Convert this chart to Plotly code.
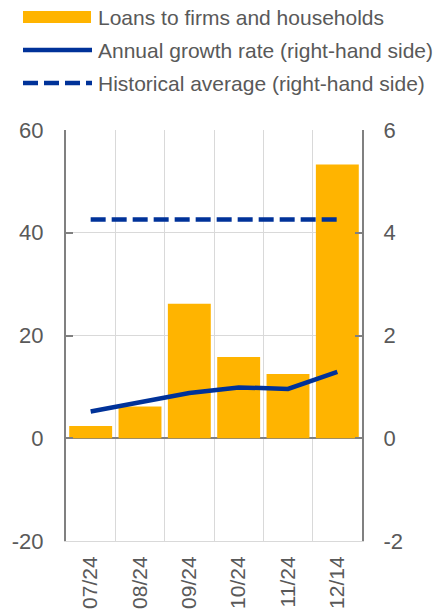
import plotly.graph_objects as go

# Monthly data
months = ["07/24", "08/24", "09/24", "10/24", "11/24", "12/14"]
loans = [2.4, 6.2, 26.2, 15.8, 12.5, 53.3]          # left-hand scale
growth_rate = [0.52, 0.70, 0.88, 0.99, 0.96, 1.29]  # right-hand scale
hist_average = [4.26, 4.26, 4.26, 4.26, 4.26, 4.26]  # right-hand scale

left_ticks = [-20, 0, 20, 40, 60]
left_labels = ["-20", "0", "20", "40", "60"]
right_ticks = [-2, 0, 2, 4, 6]
right_labels = ["-2", "0", "2", "4", "6"]

ORANGE = "#FFB400"
BLUE = "#003299"
TEXT = "#595959"
AXIS = "#808080"
GRID = "#D9D9D9"
FONT = "Arial, Liberation Sans, sans-serif"

W, H = 442, 615
L, R, T, B = 66, 80, 130, 74
PW, PH = W - L - R, H - T - B


def px_x(x):
    return (x - L) / PW


def px_y(y):
    return (H - B - y) / PH


fig = go.Figure()

fig.add_trace(go.Bar(
    x=months, y=loans, name="Loans to firms and households",
    marker=dict(color=ORANGE, line=dict(width=0)),
    yaxis="y", showlegend=False,
))
fig.add_trace(go.Scatter(
    x=months, y=growth_rate, name="Annual growth rate (right-hand side)",
    mode="lines", line=dict(color=BLUE, width=4.5),
    yaxis="y2", showlegend=False,
))
fig.add_trace(go.Scatter(
    x=months, y=hist_average, name="Historical average (right-hand side)",
    mode="lines", line=dict(color=BLUE, width=4.5, dash="15px,6px"),
    yaxis="y2", showlegend=False,
))

# Legend drawn as shapes + text
legend_rows = [
    ("Loans to firms and households", 17, "bar", None),
    ("Annual growth rate (right-hand side)", 50, "line", "solid"),
    ("Historical average (right-hand side)", 83, "line", "15px,6px"),
]
shapes = []
annotations = []
for label, cy, kind, dash in legend_rows:
    if kind == "bar":
        shapes.append(dict(type="rect", xref="paper", yref="paper",
                           x0=px_x(23), x1=px_x(91), y0=px_y(cy - 6), y1=px_y(cy + 6),
                           fillcolor=ORANGE, line=dict(width=0)))
    else:
        shapes.append(dict(type="line", xref="paper", yref="paper",
                           x0=px_x(23), x1=px_x(92), y0=px_y(cy), y1=px_y(cy),
                           line=dict(color=BLUE, width=4.5, dash=dash)))
    annotations.append(dict(text=label, xref="paper", yref="paper",
                            x=px_x(96), y=px_y(cy), xanchor="left", yanchor="middle",
                            showarrow=False, font=dict(family=FONT, size=21, color=TEXT)))

fig.update_layout(
    width=W, height=H,
    margin=dict(l=L, r=R, t=T, b=B, autoexpand=False),
    paper_bgcolor="white", plot_bgcolor="white",
    font=dict(family=FONT, color=TEXT),
    bargap=0.13,
    shapes=shapes,
    annotations=annotations,
    xaxis=dict(
        type="category", categoryarray=months, range=[-0.5, 5.5],
        showgrid=True, gridcolor=GRID, gridwidth=1, tickson="boundaries",
        ticks="", tickangle=-90, tickfont=dict(size=21, color=TEXT),
        ticklabelstandoff=6, automargin=False,
        showline=True, linecolor=GRID, linewidth=1, zeroline=False,
    ),
    xaxis2=dict(
        overlaying="x", anchor="free", position=0.25, range=[-0.5, 5.5],
        tickmode="array", tickvals=[0.5, 1.5, 2.5, 3.5, 4.5],
        ticks="outside", ticklen=7, tickwidth=2, tickcolor=AXIS,
        showticklabels=False, showgrid=False, showline=False, zeroline=False,
        automargin=False,
    ),
    yaxis=dict(
        range=[-20, 60], tickmode="array", tickvals=left_ticks, ticktext=left_labels,
        showgrid=True, gridcolor=GRID, gridwidth=1,
        showline=True, linecolor=AXIS, linewidth=2,
        ticks="inside", ticklen=7, tickwidth=2, tickcolor=AXIS,
        zeroline=True, zerolinecolor=AXIS, zerolinewidth=2,
        tickfont=dict(size=22, color=TEXT), ticklabelstandoff=16, automargin=False,
    ),
    yaxis2=dict(
        range=[-2, 6], tickmode="array", tickvals=right_ticks, ticktext=right_labels,
        overlaying="y", side="right", showgrid=False, zeroline=False,
        showline=True, linecolor=AXIS, linewidth=2,
        ticks="inside", ticklen=7, tickwidth=2, tickcolor=AXIS,
        tickfont=dict(size=22, color=TEXT), ticklabelstandoff=15, automargin=False,
    ),
)

fig.write_html("out.html")
